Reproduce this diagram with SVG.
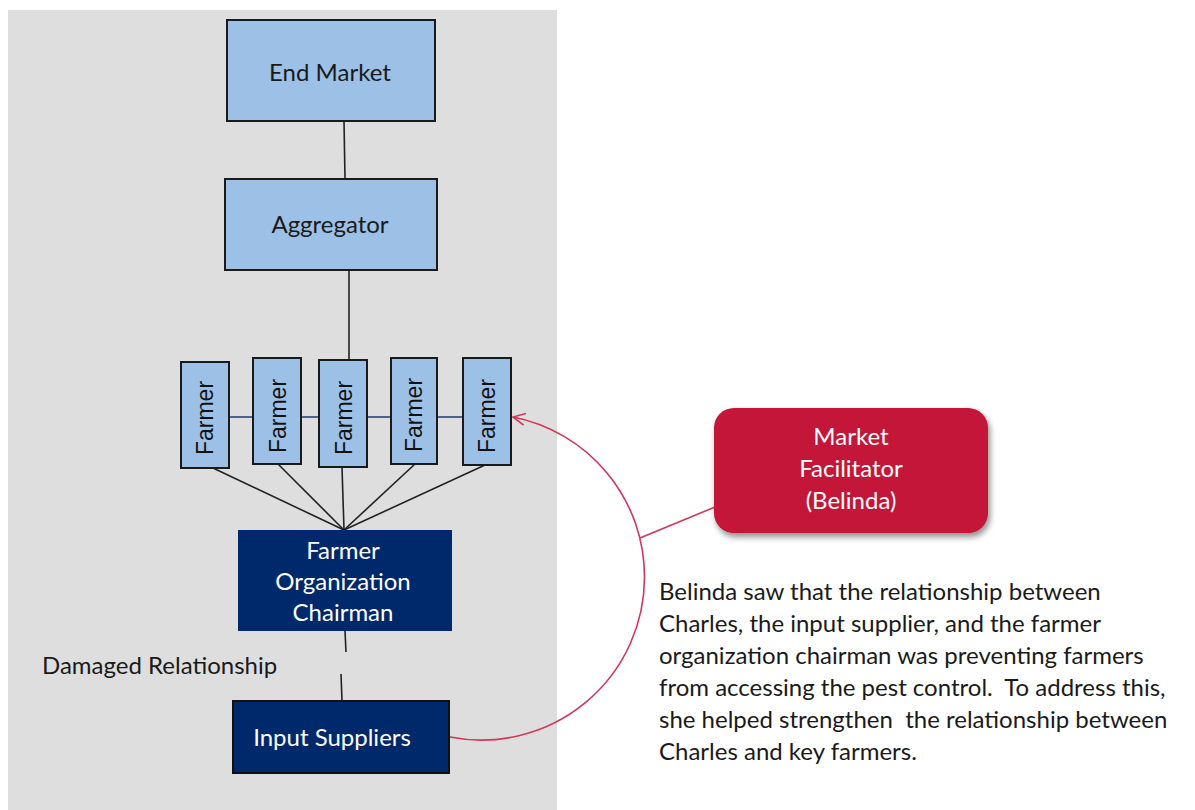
<svg xmlns="http://www.w3.org/2000/svg" width="1195" height="810" viewBox="0 0 1195 810">
  <style>
    text { font-family: Lato, "Liberation Sans", sans-serif; }
    .light { fill: #9dc0e6; stroke: #1a1a1a; stroke-width: 2; }
    .navy { fill: #00296b; }
    .navy-b { fill: #00296b; stroke: #111; stroke-width: 2; }
    .lbl { font-size: 24px; fill: #1a1a1a; text-anchor: middle; }
    .wlbl { font-size: 24px; fill: #ffffff; text-anchor: middle; }
    .farmer { font-family: "Liberation Sans", Arial, sans-serif; font-size: 23px; fill: #111; text-anchor: middle; }
    .link { stroke: #222; stroke-width: 1.6; fill: none; }
    .peer { stroke: #1f3a6e; stroke-width: 1.6; fill: none; }
    .red { stroke: #d2365a; stroke-width: 1.6; fill: none; }
    .para { font-size: 24px; fill: #1a1a1a; }
  </style>
  <defs>
    <marker id="openArrow" viewBox="0 0 14 14" refX="13" refY="7" markerWidth="14" markerHeight="14" markerUnits="userSpaceOnUse" orient="auto">
      <path d="M1,1 L13,7 L1,13" fill="none" stroke="#d2365a" stroke-width="1.6"/>
    </marker>
    <filter id="shadow" x="-10%" y="-10%" width="130%" height="140%">
      <feGaussianBlur in="SourceAlpha" stdDeviation="3"/>
      <feOffset dx="2" dy="4"/>
      <feComponentTransfer><feFuncA type="linear" slope="0.45"/></feComponentTransfer>
      <feMerge><feMergeNode/><feMergeNode in="SourceGraphic"/></feMerge>
    </filter>
  </defs>

  <rect x="0" y="0" width="1195" height="810" fill="#ffffff"/>
  <!-- shaded value-chain panel -->
  <rect x="8" y="10" width="549" height="800" fill="#dedede"/>

  <!-- connectors -->
  <g id="connectors">
    <line class="link" x1="344" y1="121" x2="345" y2="179"/>
    <line class="link" x1="349" y1="270" x2="349" y2="360"/>
    <line class="peer" x1="229" y1="417" x2="463" y2="417"/>
    <line class="link" x1="213" y1="468" x2="344" y2="530"/>
    <line class="link" x1="278" y1="464" x2="344" y2="530"/>
    <line class="link" x1="342" y1="467" x2="344" y2="530"/>
    <line class="link" x1="415" y1="464" x2="344" y2="530"/>
    <line class="link" x1="485" y1="465" x2="344" y2="530"/>
    <!-- broken link between chairman and suppliers -->
    <line class="link" x1="345" y1="631" x2="346" y2="652"/>
    <line class="link" x1="341" y1="674" x2="342" y2="701"/>
    <!-- facilitator intervention -->
    <path class="red" d="M450,737 A163,163 0 0,0 644.5,577 A163,163 0 0,0 513,417" marker-end="url(#openArrow)"/>
    <line class="red" x1="715" y1="507" x2="640" y2="538"/>
  </g>

  <g id="end-market">
    <rect class="light" x="227" y="20" width="208" height="101"/>
    <text class="lbl" x="330" y="81">End Market</text>
  </g>
  <g id="aggregator">
    <rect class="light" x="225" y="179" width="212" height="91"/>
    <text class="lbl" x="330" y="233">Aggregator</text>
  </g>

  <g id="farmer-1">
    <rect class="light" x="181" y="362" width="48" height="106"/>
    <text class="farmer" transform="translate(213,418) rotate(-90)">Farmer</text>
  </g>
  <g id="farmer-2">
    <rect class="light" x="253" y="358" width="48" height="106"/>
    <text class="farmer" transform="translate(286,416) rotate(-90)">Farmer</text>
  </g>
  <g id="farmer-3">
    <rect class="light" x="319" y="360" width="48" height="107"/>
    <text class="farmer" transform="translate(352,418) rotate(-90)">Farmer</text>
  </g>
  <g id="farmer-4">
    <rect class="light" x="391" y="358" width="46" height="106"/>
    <text class="farmer" transform="translate(422,415) rotate(-90)">Farmer</text>
  </g>
  <g id="farmer-5">
    <rect class="light" x="463" y="358" width="48" height="107"/>
    <text class="farmer" transform="translate(495,416) rotate(-90)">Farmer</text>
  </g>

  <g id="chairman">
    <rect class="navy" x="238" y="530" width="214" height="101"/>
    <text class="wlbl" x="343" y="559">Farmer</text>
    <text class="wlbl" x="343" y="590">Organization</text>
    <text class="wlbl" x="343" y="621">Chairman</text>
  </g>

  <g id="damaged-label">
    <text x="42" y="674" font-size="24" fill="#1a1a1a">Damaged Relationship</text>
  </g>

  <g id="input-suppliers">
    <rect class="navy-b" x="233" y="701" width="216" height="72"/>
    <text class="wlbl" x="332" y="746">Input Suppliers</text>
  </g>

  <g id="market-facilitator">
    <rect x="714" y="408" width="274" height="125" rx="20" ry="20" fill="#c41238" filter="url(#shadow)"/>
    <text class="wlbl" x="851" y="445" font-size="23">Market</text>
    <text class="wlbl" x="851" y="477" font-size="23">Facilitator</text>
    <text class="wlbl" x="851" y="509" font-size="23">(Belinda)</text>
  </g>

  <g id="note">
    <text class="para" x="659" y="600">Belinda saw that the relationship between</text>
    <text class="para" x="659" y="632">Charles, the input supplier, and the farmer</text>
    <text class="para" x="659" y="664">organization chairman was preventing farmers</text>
    <text class="para" x="659" y="696" xml:space="preserve">from accessing the pest control.  To address this,</text>
    <text class="para" x="659" y="728" xml:space="preserve">she helped strengthen  the relationship between</text>
    <text class="para" x="659" y="760">Charles and key farmers.</text>
  </g>
</svg>
